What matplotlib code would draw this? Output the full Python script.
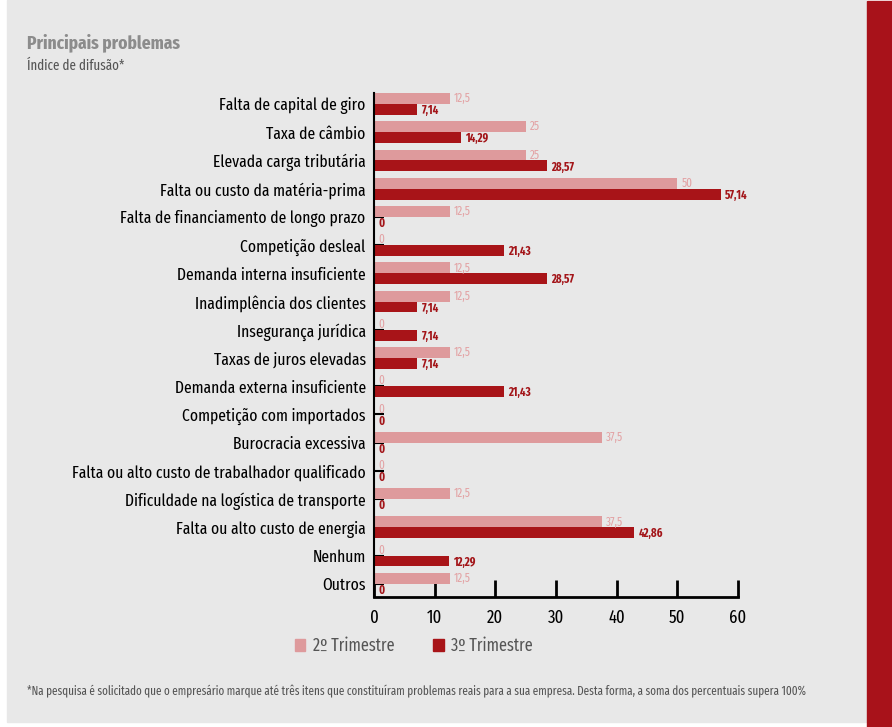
import matplotlib

matplotlib.use("Agg")
import matplotlib.pyplot as plt  # noqa: E402
from matplotlib.patches import Rectangle  # noqa: E402

plt.rcParams["font.family"] = ["Fira Sans Extra Condensed", "Fira Sans Condensed", "DejaVu Sans"]

# --- data ---
categories = [
    "Falta de capital de giro",
    "Taxa de câmbio",
    "Elevada carga tributária",
    "Falta ou custo da matéria-prima",
    "Falta de financiamento de longo prazo",
    "Competição desleal",
    "Demanda interna insuficiente",
    "Inadimplência dos clientes",
    "Insegurança jurídica",
    "Taxas de juros elevadas",
    "Demanda externa insuficiente",
    "Competição com importados",
    "Burocracia excessiva",
    "Falta ou alto custo de trabalhador qualificado",
    "Dificuldade na logística de transporte",
    "Falta ou alto custo de energia",
    "Nenhum",
    "Outros",
]
q2_values = [12.5, 25, 25, 50, 12.5, 0, 12.5, 12.5, 0, 12.5, 0, 0, 37.5, 0, 12.5, 37.5, 0, 12.5]
q3_values = [7.14, 14.29, 28.57, 57.14, 0, 21.43, 28.57, 7.14, 7.14, 7.14, 21.43, 0, 0, 0, 0, 42.86, 12.29, 0]
series_names = ["2º Trimestre", "3º Trimestre"]
x_ticks = [0, 10, 20, 30, 40, 50, 60]

LIGHT = "#de9a9c"
DARK = "#a81418"
LIGHT_TXT = "#e3a3a5"
DARK_TXT = "#a31519"
BG = "#e8e8e8"

W, H = 892, 727
fig = plt.figure(figsize=(W / 100, H / 100), dpi=100, facecolor="white")

# panel background and the red stripe on the right
fig.patches.append(Rectangle((7 / W, 5 / H), (866 - 7) / W, 1 - 5 / H,
                             transform=fig.transFigure, color=BG, zorder=-10))
fig.patches.append(Rectangle((867 / W, 0), (W - 867) / W, 1 - 1 / H,
                             transform=fig.transFigure, color="#a8121a", zorder=-10))

ax = fig.add_axes([374 / W, 1 - 597.3 / H, (738 - 374) / W, (597.3 - 92.7) / H])
ax.set_facecolor("none")

h = 0.385
ys = list(range(len(categories)))
ax.barh([y - h / 2 for y in ys], q2_values, height=h, color=LIGHT, zorder=2)
ax.barh([y + h / 2 for y in ys], q3_values, height=h, color=DARK, zorder=2)

for y, v2, v3 in zip(ys, q2_values, q3_values):
    ax.text(v2 + 0.65, y - h / 2, f"{v2:g}".replace(".", ","), color=LIGHT_TXT,
            fontsize=8.7, va="center", ha="left")
    ax.text(v3 + 0.7, y + h / 2 + 0.04, f"{v3:g}".replace(".", ","), color=DARK_TXT,
            fontsize=8.5, fontweight="bold", va="center", ha="left")

ax.set_xlim(0, 60)
ax.set_ylim(17.48, -0.40)
ax.set_xticks(x_ticks)
ax.set_yticks(ys)
ax.set_yticklabels(categories)
ax.tick_params(axis="x", direction="in", length=12, width=2, labelsize=13, pad=8)
ax.tick_params(axis="y", direction="in", length=7, width=1.5, labelsize=12.2, pad=6)
for side in ("top", "right"):
    ax.spines[side].set_visible(False)
ax.spines["left"].set_linewidth(1.5)
ax.spines["bottom"].set_linewidth(2)
ax.spines["left"].set_zorder(3)

leg = fig.legend(
    handles=[Rectangle((0, 0), 1, 1, color=LIGHT), Rectangle((0, 0), 1, 1, color=DARK)],
    labels=series_names, loc="center left", bbox_to_anchor=(279 / W, 1 - 646 / H),
    ncol=2, frameon=False, fontsize=12.7, handlelength=0.6, handleheight=0.7,
    handletextpad=0.45, columnspacing=2.15,
)
for t in leg.get_texts():
    t.set_color("#555555")

fig.text(27 / W, 1 - 43 / H, "Principais problemas", fontsize=13.6, fontweight="bold",
         color="#8c8c8c", va="center", ha="left")
fig.text(27 / W, 1 - 66 / H, "Índice de difusão*", fontsize=10.2, color="#555555",
         va="center", ha="left")
fig.text(27 / W, 1 - 691 / H,
         "*Na pesquisa é solicitado que o empresário marque até três itens que constituíram "
         "problemas reais para a sua empresa. Desta forma, a soma dos percentuais supera 100%",
         fontsize=8.7, color="#555555", va="center", ha="left")

fig.savefig("out.png", dpi=100, facecolor=fig.get_facecolor())
